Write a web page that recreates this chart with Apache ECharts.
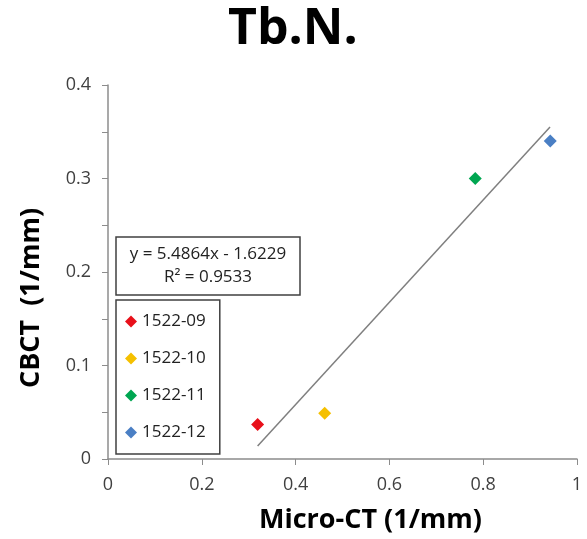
<!DOCTYPE html>
<html>
<head>
<meta charset="utf-8">
<script src="https://cdn.jsdelivr.net/npm/echarts@6/dist/echarts.min.js"></script>
<style>
  html, body { margin: 0; padding: 0; background: #fff; }
  #main { width: 587px; height: 539px; }
</style>
</head>
<body>
<div id="main"></div>
<script>
var names = ['1522-09', '1522-10', '1522-11', '1522-12'];
var colors = ['#e8101a', '#f5c000', '#00a651', '#4a7fc4'];
var microCT = [0.319, 0.462, 0.783, 0.943];
var cbct = [0.037, 0.049, 0.300, 0.340];
// trendline ends
var trendX = [0.319, 0.9425];
var trendY = [0.014, 0.355];
var equationText = 'y = 5.4864x - 1.6229\nR\u00b2 = 0.9533';

var font = '"Open Sans", "Noto Sans", sans-serif';

var chartDom = document.getElementById('main');
var myChart = echarts.init(chartDom, null, { renderer: 'canvas' });

var series = names.map(function (n, i) {
  return {
    name: n,
    type: 'scatter',
    symbol: 'diamond',
    symbolSize: 13,
    itemStyle: { color: colors[i], opacity: 1 },
    data: [[microCT[i], cbct[i]]],
    z: 3
  };
});
series.push({
  name: 'trend',
  type: 'line',
  showSymbol: false,
  symbol: 'none',
  lineStyle: { color: '#7f7f7f', width: 1.5 },
  data: trendX.map(function (x, i) { return [x, trendY[i]]; }),
  silent: true,
  z: 2
});

var option = {
  animation: false,
  backgroundColor: '#fff',
  title: {
    text: 'Tb.N.',
    left: 223,
    top: 0,
    textStyle: { fontFamily: font, fontWeight: 'bold', fontSize: 50, color: '#000' }
  },
  // equation box
  graphic: [
    {
      type: 'rect',
      shape: { x: 116, y: 237, width: 184, height: 58 },
      style: { fill: '#fff', stroke: '#404040', lineWidth: 1.5 },
      z: 10
    },
    {
      type: 'text',
      x: 208,
      y: 266,
      style: {
        text: equationText,
        fontFamily: font,
        fontSize: 17,
        lineHeight: 23,
        fill: '#222',
        align: 'center',
        verticalAlign: 'middle'
      },
      z: 11
    }
  ],
  legend: {
    data: names,
    orient: 'vertical',
    left: 116,
    top: 300,
    borderColor: '#404040',
    borderWidth: 1.5,
    padding: [10, 14, 10, 9],
    itemGap: 14,
    itemWidth: 12,
    itemHeight: 12,
    icon: 'diamond',
    itemStyle: { opacity: 1 },
    textStyle: { fontFamily: font, fontSize: 17, color: '#222', padding: [0, 0, 0, 0], lineHeight: 23 }
  },
  grid: { left: 108, right: 10, top: 85, bottom: 79 },
  xAxis: {
    type: 'value',
    min: 0,
    max: 1,
    interval: 0.2,
    name: 'Micro-CT (1/mm)',
    nameLocation: 'middle',
    nameGap: 48,
    nameTextStyle: { fontFamily: font, fontWeight: 'bold', fontSize: 27, color: '#000', padding: [0, 0, 0, 56] },
    axisLine: { lineStyle: { color: '#8c8c8c', width: 1.5 } },
    axisTick: { show: true, length: 6, lineStyle: { color: '#8c8c8c' } },
    splitLine: { show: false },
    axisLabel: { fontFamily: font, fontSize: 18, color: '#404040', margin: 17 }
  },
  yAxis: {
    type: 'value',
    min: 0,
    max: 0.4,
    interval: 0.1,
    name: 'CBCT  (1/mm)',
    nameLocation: 'middle',
    nameGap: 63,
    nameTextStyle: { fontFamily: font, fontWeight: 'bold', fontSize: 27, color: '#000', padding: [0, 52, 0, 0] },
    axisLine: { show: true, lineStyle: { color: '#8c8c8c', width: 1.5 } },
    axisTick: { show: true, length: 6, lineStyle: { color: '#8c8c8c' } },
    minorTick: { show: true, splitNumber: 2, length: 6, lineStyle: { color: '#8c8c8c' } },
    splitLine: { show: false },
    axisLabel: { fontFamily: font, fontSize: 18, color: '#404040', margin: 17 }
  },
  series: series
};

myChart.setOption(option);
window.addEventListener('resize', myChart.resize);
</script>
</body>
</html>
